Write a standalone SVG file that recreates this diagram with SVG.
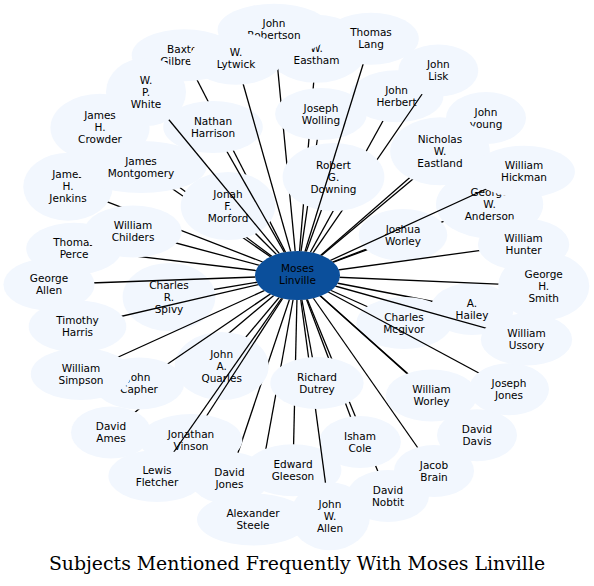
<svg xmlns="http://www.w3.org/2000/svg" width="594" height="586" viewBox="0 0 594 586">
<style>
.node{fill:#f2f7fe}
.center{fill:#0b4f9b}
.lbl{font-family:"DejaVu Sans","Liberation Sans",sans-serif;font-size:10.5px;fill:#000;text-anchor:middle}
.edges line{stroke:#000;stroke-width:1.3}
.title{font-family:"DejaVu Serif","Liberation Serif",serif;font-size:18.85px;fill:#000;text-anchor:middle}
</style>
<rect width="594" height="586" fill="#fff"/>
<g id="node-moses-linville" class="center"><ellipse id="e0" cx="297.5" cy="275.5" rx="42.5" ry="24.5"/><text class="lbl" x="297.5" y="272">Moses<tspan x="297.5" dy="12">Linville</tspan></text></g>
<g id="node-a-hailey" class="node"><ellipse id="e1" cx="472" cy="309" rx="41.6" ry="26"/><text class="lbl" x="472" y="306.5">A.<tspan x="472" dy="12">Hailey</tspan></text></g>
<g id="node-alexander-steele" class="node"><ellipse id="e2" cx="253" cy="519.5" rx="56" ry="26"/><text class="lbl" x="253" y="517">Alexander<tspan x="253" dy="12">Steele</tspan></text></g>
<g id="node-baxter-gilbreath" class="node"><ellipse id="e3" cx="184.4" cy="55.2" rx="52.7" ry="26"/><text class="lbl" x="184.4" y="52.7">Baxter<tspan x="184.4" dy="12">Gilbreath</tspan></text></g>
<g id="node-charles-mcgivor" class="node"><ellipse id="e4" cx="404" cy="323" rx="47.6" ry="26"/><text class="lbl" x="404" y="320.5">Charles<tspan x="404" dy="12">Mcgivor</tspan></text></g>
<g id="node-charles-r-spivy" class="node"><ellipse id="e5" cx="169" cy="297" rx="46.4" ry="34"/><text class="lbl" x="169" y="288.5">Charles<tspan x="169" dy="12">R.</tspan><tspan x="169" dy="12">Spivy</tspan></text></g>
<g id="node-david-ames" class="node"><ellipse id="e6" cx="111" cy="432.5" rx="40" ry="26"/><text class="lbl" x="111" y="430">David<tspan x="111" dy="12">Ames</tspan></text></g>
<g id="node-david-davis" class="node"><ellipse id="e7" cx="477" cy="435.3" rx="40" ry="26"/><text class="lbl" x="477" y="432.8">David<tspan x="477" dy="12">Davis</tspan></text></g>
<g id="node-david-jones" class="node"><ellipse id="e8" cx="229.5" cy="478" rx="40" ry="26"/><text class="lbl" x="229.5" y="475.5">David<tspan x="229.5" dy="12">Jones</tspan></text></g>
<g id="node-david-nobtit" class="node"><ellipse id="e9" cx="388" cy="496" rx="41" ry="26"/><text class="lbl" x="388" y="493.5">David<tspan x="388" dy="12">Nobtit</tspan></text></g>
<g id="node-edward-gleeson" class="node"><ellipse id="e10" cx="293" cy="470.3" rx="48.4" ry="26"/><text class="lbl" x="293" y="467.8">Edward<tspan x="293" dy="12">Gleeson</tspan></text></g>
<g id="node-george-allen" class="node"><ellipse id="e11" cx="49" cy="284.5" rx="45.6" ry="26"/><text class="lbl" x="49" y="282">George<tspan x="49" dy="12">Allen</tspan></text></g>
<g id="node-george-h-smith" class="node"><ellipse id="e12" cx="543.7" cy="286" rx="45.6" ry="34"/><text class="lbl" x="543.7" y="277.5">George<tspan x="543.7" dy="12">H.</tspan><tspan x="543.7" dy="12">Smith</tspan></text></g>
<g id="node-george-w-anderson" class="node"><ellipse id="e13" cx="489.6" cy="204.3" rx="53.6" ry="34"/><text class="lbl" x="489.6" y="195.8">George<tspan x="489.6" dy="12">W.</tspan><tspan x="489.6" dy="12">Anderson</tspan></text></g>
<g id="node-isham-cole" class="node"><ellipse id="e14" cx="360" cy="442" rx="40.9" ry="26"/><text class="lbl" x="360" y="439.5">Isham<tspan x="360" dy="12">Cole</tspan></text></g>
<g id="node-w-eastham" class="node"><ellipse id="e15" cx="316.5" cy="48.8" rx="50.9" ry="34"/><text class="lbl" x="316.5" y="52.3">W.<tspan x="316.5" dy="12">Eastham</tspan></text></g>
<g id="node-jacob-brain" class="node"><ellipse id="e16" cx="434" cy="471" rx="40" ry="26"/><text class="lbl" x="434" y="468.5">Jacob<tspan x="434" dy="12">Brain</tspan></text></g>
<g id="node-james-h-crowder" class="node"><ellipse id="e17" cx="100" cy="127.7" rx="49.6" ry="34"/><text class="lbl" x="100" y="119.2">James<tspan x="100" dy="12">H.</tspan><tspan x="100" dy="12">Crowder</tspan></text></g>
<g id="node-james-h-jenkins" class="node"><ellipse id="e18" cx="68" cy="186.7" rx="44.8" ry="34"/><text class="lbl" x="68" y="178.2">James<tspan x="68" dy="12">H.</tspan><tspan x="68" dy="12">Jenkins</tspan></text></g>
<g id="node-james-montgomery" class="node"><ellipse id="e19" cx="141" cy="167" rx="65.5" ry="26"/><text class="lbl" x="141" y="164.5">James<tspan x="141" dy="12">Montgomery</tspan></text></g>
<g id="node-john-a-quarles" class="node"><ellipse id="e20" cx="221.7" cy="366" rx="47" ry="34"/><text class="lbl" x="221.7" y="357.5">John<tspan x="221.7" dy="12">A.</tspan><tspan x="221.7" dy="12">Quarles</tspan></text></g>
<g id="node-john-capher" class="node"><ellipse id="e21" cx="139" cy="383.5" rx="45.2" ry="26"/><text class="lbl" x="139" y="381">John<tspan x="139" dy="12">Capher</tspan></text></g>
<g id="node-john-herbert" class="node"><ellipse id="e22" cx="396.6" cy="96.3" rx="46.8" ry="26"/><text class="lbl" x="396.6" y="93.8">John<tspan x="396.6" dy="12">Herbert</tspan></text></g>
<g id="node-john-lisk" class="node"><ellipse id="e23" cx="438.3" cy="70.5" rx="40" ry="26"/><text class="lbl" x="438.3" y="68">John<tspan x="438.3" dy="12">Lisk</tspan></text></g>
<g id="node-john-robertson" class="node"><ellipse id="e24" cx="274" cy="29.7" rx="56.4" ry="26"/><text class="lbl" x="274" y="27.2">John<tspan x="274" dy="12">Robertson</tspan></text></g>
<g id="node-john-w-allen" class="node"><ellipse id="e25" cx="330" cy="516.3" rx="40" ry="34"/><text class="lbl" x="330" y="507.8">John<tspan x="330" dy="12">W.</tspan><tspan x="330" dy="12">Allen</tspan></text></g>
<g id="node-john-young" class="node"><ellipse id="e26" cx="486" cy="118" rx="40" ry="26"/><text class="lbl" x="486" y="115.5">John<tspan x="486" dy="12">young</tspan></text></g>
<g id="node-jonah-f-morford" class="node"><ellipse id="e27" cx="228" cy="206" rx="47.3" ry="34"/><text class="lbl" x="228" y="197.5">Jonah<tspan x="228" dy="12">F.</tspan><tspan x="228" dy="12">Morford</tspan></text></g>
<g id="node-jonathan-vinson" class="node"><ellipse id="e28" cx="191" cy="440" rx="51.3" ry="26"/><text class="lbl" x="191" y="437.5">Jonathan<tspan x="191" dy="12">Vinson</tspan></text></g>
<g id="node-joseph-jones" class="node"><ellipse id="e29" cx="509" cy="389.3" rx="40" ry="26"/><text class="lbl" x="509" y="386.8">Joseph<tspan x="509" dy="12">Jones</tspan></text></g>
<g id="node-joseph-wolling" class="node"><ellipse id="e30" cx="321" cy="114" rx="45.9" ry="26"/><text class="lbl" x="321" y="111.5">Joseph<tspan x="321" dy="12">Wolling</tspan></text></g>
<g id="node-joshua-worley" class="node"><ellipse id="e31" cx="403" cy="235" rx="44.3" ry="26"/><text class="lbl" x="403" y="232.5">Joshua<tspan x="403" dy="12">Worley</tspan></text></g>
<g id="node-lewis-fletcher" class="node"><ellipse id="e32" cx="157" cy="476" rx="48.6" ry="26"/><text class="lbl" x="157" y="473.5">Lewis<tspan x="157" dy="12">Fletcher</tspan></text></g>
<g id="node-nathan-harrison" class="node"><ellipse id="e33" cx="213" cy="127" rx="49.8" ry="26"/><text class="lbl" x="213" y="124.5">Nathan<tspan x="213" dy="12">Harrison</tspan></text></g>
<g id="node-nicholas-w-eastland" class="node"><ellipse id="e34" cx="440" cy="151.3" rx="49.8" ry="34"/><text class="lbl" x="440" y="142.8">Nicholas<tspan x="440" dy="12">W.</tspan><tspan x="440" dy="12">Eastland</tspan></text></g>
<g id="node-richard-dutrey" class="node"><ellipse id="e35" cx="317" cy="383" rx="46.7" ry="26"/><text class="lbl" x="317" y="380.5">Richard<tspan x="317" dy="12">Dutrey</tspan></text></g>
<g id="node-robert-g-downing" class="node"><ellipse id="e36" cx="333.5" cy="177" rx="50.9" ry="34"/><text class="lbl" x="333.5" y="168.5">Robert<tspan x="333.5" dy="12">G.</tspan><tspan x="333.5" dy="12">Downing</tspan></text></g>
<g id="node-thomas-lang" class="node"><ellipse id="e37" cx="371" cy="38.7" rx="47.8" ry="26"/><text class="lbl" x="371" y="36.2">Thomas<tspan x="371" dy="12">Lang</tspan></text></g>
<g id="node-thomas-perce" class="node"><ellipse id="e38" cx="74" cy="248.7" rx="47.8" ry="26"/><text class="lbl" x="74" y="246.2">Thomas<tspan x="74" dy="12">Perce</tspan></text></g>
<g id="node-timothy-harris" class="node"><ellipse id="e39" cx="77.5" cy="326.5" rx="48.8" ry="26"/><text class="lbl" x="77.5" y="324">Timothy<tspan x="77.5" dy="12">Harris</tspan></text></g>
<g id="node-w-lytwick" class="node"><ellipse id="e40" cx="236" cy="58.7" rx="46.3" ry="26"/><text class="lbl" x="236" y="56.2">W.<tspan x="236" dy="12">Lytwick</tspan></text></g>
<g id="node-w-p-white" class="node"><ellipse id="e41" cx="146" cy="92" rx="40" ry="34"/><text class="lbl" x="146" y="83.5">W.<tspan x="146" dy="12">P.</tspan><tspan x="146" dy="12">White</tspan></text></g>
<g id="node-william-childers" class="node"><ellipse id="e42" cx="133" cy="231.5" rx="48.6" ry="26"/><text class="lbl" x="133" y="229">William<tspan x="133" dy="12">Childers</tspan></text></g>
<g id="node-william-hickman" class="node"><ellipse id="e43" cx="524" cy="171.7" rx="50.9" ry="26"/><text class="lbl" x="524" y="169.2">William<tspan x="524" dy="12">Hickman</tspan></text></g>
<g id="node-william-hunter" class="node"><ellipse id="e44" cx="523.6" cy="244.5" rx="45.7" ry="26"/><text class="lbl" x="523.6" y="242">William<tspan x="523.6" dy="12">Hunter</tspan></text></g>
<g id="node-william-simpson" class="node"><ellipse id="e45" cx="81" cy="374" rx="50.2" ry="26"/><text class="lbl" x="81" y="371.5">William<tspan x="81" dy="12">Simpson</tspan></text></g>
<g id="node-william-ussory" class="node"><ellipse id="e46" cx="526.5" cy="339.5" rx="45.7" ry="26"/><text class="lbl" x="526.5" y="337">William<tspan x="526.5" dy="12">Ussory</tspan></text></g>
<g id="node-william-worley" class="node"><ellipse id="e47" cx="431.5" cy="395.5" rx="45.7" ry="26"/><text class="lbl" x="431.5" y="393">William<tspan x="431.5" dy="12">Worley</tspan></text></g>
<defs>
<g id="c48"><use href="#e0"/></g>
<g id="c47"><use href="#e47"/><use href="#c48"/></g>
<g id="c46"><use href="#e46"/><use href="#c47"/></g>
<g id="c45"><use href="#e45"/><use href="#c46"/></g>
<g id="c44"><use href="#e44"/><use href="#c45"/></g>
<g id="c43"><use href="#e43"/><use href="#c44"/></g>
<g id="c42"><use href="#e42"/><use href="#c43"/></g>
<g id="c41"><use href="#e41"/><use href="#c42"/></g>
<g id="c40"><use href="#e40"/><use href="#c41"/></g>
<g id="c39"><use href="#e39"/><use href="#c40"/></g>
<g id="c38"><use href="#e38"/><use href="#c39"/></g>
<g id="c37"><use href="#e37"/><use href="#c38"/></g>
<g id="c36"><use href="#e36"/><use href="#c37"/></g>
<g id="c35"><use href="#e35"/><use href="#c36"/></g>
<g id="c34"><use href="#e34"/><use href="#c35"/></g>
<g id="c33"><use href="#e33"/><use href="#c34"/></g>
<g id="c32"><use href="#e32"/><use href="#c33"/></g>
<g id="c31"><use href="#e31"/><use href="#c32"/></g>
<g id="c30"><use href="#e30"/><use href="#c31"/></g>
<g id="c29"><use href="#e29"/><use href="#c30"/></g>
<g id="c28"><use href="#e28"/><use href="#c29"/></g>
<g id="c27"><use href="#e27"/><use href="#c28"/></g>
<g id="c26"><use href="#e26"/><use href="#c27"/></g>
<g id="c25"><use href="#e25"/><use href="#c26"/></g>
<g id="c24"><use href="#e24"/><use href="#c25"/></g>
<g id="c23"><use href="#e23"/><use href="#c24"/></g>
<g id="c22"><use href="#e22"/><use href="#c23"/></g>
<g id="c21"><use href="#e21"/><use href="#c22"/></g>
<g id="c20"><use href="#e20"/><use href="#c21"/></g>
<g id="c19"><use href="#e19"/><use href="#c20"/></g>
<g id="c18"><use href="#e18"/><use href="#c19"/></g>
<g id="c17"><use href="#e17"/><use href="#c18"/></g>
<g id="c16"><use href="#e16"/><use href="#c17"/></g>
<g id="c15"><use href="#e15"/><use href="#c16"/></g>
<g id="c14"><use href="#e14"/><use href="#c15"/></g>
<g id="c13"><use href="#e13"/><use href="#c14"/></g>
<g id="c12"><use href="#e12"/><use href="#c13"/></g>
<g id="c11"><use href="#e11"/><use href="#c12"/></g>
<g id="c10"><use href="#e10"/><use href="#c11"/></g>
<g id="c9"><use href="#e9"/><use href="#c10"/></g>
<g id="c8"><use href="#e8"/><use href="#c9"/></g>
<g id="c7"><use href="#e7"/><use href="#c8"/></g>
<g id="c6"><use href="#e6"/><use href="#c7"/></g>
<g id="c5"><use href="#e5"/><use href="#c6"/></g>
<g id="c4"><use href="#e4"/><use href="#c5"/></g>
<g id="c3"><use href="#e3"/><use href="#c4"/></g>
<g id="c2"><use href="#e2"/><use href="#c3"/></g>
<g id="c1"><use href="#e1"/><use href="#c2"/></g>
<mask id="m1" maskUnits="userSpaceOnUse" x="0" y="0" width="594" height="586"><rect width="594" height="586" fill="#fff"/><use href="#c1" fill="#000"/></mask>
<mask id="m2" maskUnits="userSpaceOnUse" x="0" y="0" width="594" height="586"><rect width="594" height="586" fill="#fff"/><use href="#c2" fill="#000"/></mask>
<mask id="m3" maskUnits="userSpaceOnUse" x="0" y="0" width="594" height="586"><rect width="594" height="586" fill="#fff"/><use href="#c3" fill="#000"/></mask>
<mask id="m4" maskUnits="userSpaceOnUse" x="0" y="0" width="594" height="586"><rect width="594" height="586" fill="#fff"/><use href="#c4" fill="#000"/></mask>
<mask id="m5" maskUnits="userSpaceOnUse" x="0" y="0" width="594" height="586"><rect width="594" height="586" fill="#fff"/><use href="#c5" fill="#000"/></mask>
<mask id="m6" maskUnits="userSpaceOnUse" x="0" y="0" width="594" height="586"><rect width="594" height="586" fill="#fff"/><use href="#c6" fill="#000"/></mask>
<mask id="m7" maskUnits="userSpaceOnUse" x="0" y="0" width="594" height="586"><rect width="594" height="586" fill="#fff"/><use href="#c7" fill="#000"/></mask>
<mask id="m8" maskUnits="userSpaceOnUse" x="0" y="0" width="594" height="586"><rect width="594" height="586" fill="#fff"/><use href="#c8" fill="#000"/></mask>
<mask id="m9" maskUnits="userSpaceOnUse" x="0" y="0" width="594" height="586"><rect width="594" height="586" fill="#fff"/><use href="#c9" fill="#000"/></mask>
<mask id="m10" maskUnits="userSpaceOnUse" x="0" y="0" width="594" height="586"><rect width="594" height="586" fill="#fff"/><use href="#c10" fill="#000"/></mask>
<mask id="m11" maskUnits="userSpaceOnUse" x="0" y="0" width="594" height="586"><rect width="594" height="586" fill="#fff"/><use href="#c11" fill="#000"/></mask>
<mask id="m12" maskUnits="userSpaceOnUse" x="0" y="0" width="594" height="586"><rect width="594" height="586" fill="#fff"/><use href="#c12" fill="#000"/></mask>
<mask id="m13" maskUnits="userSpaceOnUse" x="0" y="0" width="594" height="586"><rect width="594" height="586" fill="#fff"/><use href="#c13" fill="#000"/></mask>
<mask id="m14" maskUnits="userSpaceOnUse" x="0" y="0" width="594" height="586"><rect width="594" height="586" fill="#fff"/><use href="#c14" fill="#000"/></mask>
<mask id="m15" maskUnits="userSpaceOnUse" x="0" y="0" width="594" height="586"><rect width="594" height="586" fill="#fff"/><use href="#c15" fill="#000"/></mask>
<mask id="m16" maskUnits="userSpaceOnUse" x="0" y="0" width="594" height="586"><rect width="594" height="586" fill="#fff"/><use href="#c16" fill="#000"/></mask>
<mask id="m17" maskUnits="userSpaceOnUse" x="0" y="0" width="594" height="586"><rect width="594" height="586" fill="#fff"/><use href="#c17" fill="#000"/></mask>
<mask id="m18" maskUnits="userSpaceOnUse" x="0" y="0" width="594" height="586"><rect width="594" height="586" fill="#fff"/><use href="#c18" fill="#000"/></mask>
<mask id="m19" maskUnits="userSpaceOnUse" x="0" y="0" width="594" height="586"><rect width="594" height="586" fill="#fff"/><use href="#c19" fill="#000"/></mask>
<mask id="m20" maskUnits="userSpaceOnUse" x="0" y="0" width="594" height="586"><rect width="594" height="586" fill="#fff"/><use href="#c20" fill="#000"/></mask>
<mask id="m21" maskUnits="userSpaceOnUse" x="0" y="0" width="594" height="586"><rect width="594" height="586" fill="#fff"/><use href="#c21" fill="#000"/></mask>
<mask id="m22" maskUnits="userSpaceOnUse" x="0" y="0" width="594" height="586"><rect width="594" height="586" fill="#fff"/><use href="#c22" fill="#000"/></mask>
<mask id="m23" maskUnits="userSpaceOnUse" x="0" y="0" width="594" height="586"><rect width="594" height="586" fill="#fff"/><use href="#c23" fill="#000"/></mask>
<mask id="m24" maskUnits="userSpaceOnUse" x="0" y="0" width="594" height="586"><rect width="594" height="586" fill="#fff"/><use href="#c24" fill="#000"/></mask>
<mask id="m25" maskUnits="userSpaceOnUse" x="0" y="0" width="594" height="586"><rect width="594" height="586" fill="#fff"/><use href="#c25" fill="#000"/></mask>
<mask id="m26" maskUnits="userSpaceOnUse" x="0" y="0" width="594" height="586"><rect width="594" height="586" fill="#fff"/><use href="#c26" fill="#000"/></mask>
<mask id="m27" maskUnits="userSpaceOnUse" x="0" y="0" width="594" height="586"><rect width="594" height="586" fill="#fff"/><use href="#c27" fill="#000"/></mask>
<mask id="m28" maskUnits="userSpaceOnUse" x="0" y="0" width="594" height="586"><rect width="594" height="586" fill="#fff"/><use href="#c28" fill="#000"/></mask>
<mask id="m29" maskUnits="userSpaceOnUse" x="0" y="0" width="594" height="586"><rect width="594" height="586" fill="#fff"/><use href="#c29" fill="#000"/></mask>
<mask id="m30" maskUnits="userSpaceOnUse" x="0" y="0" width="594" height="586"><rect width="594" height="586" fill="#fff"/><use href="#c30" fill="#000"/></mask>
<mask id="m31" maskUnits="userSpaceOnUse" x="0" y="0" width="594" height="586"><rect width="594" height="586" fill="#fff"/><use href="#c31" fill="#000"/></mask>
<mask id="m32" maskUnits="userSpaceOnUse" x="0" y="0" width="594" height="586"><rect width="594" height="586" fill="#fff"/><use href="#c32" fill="#000"/></mask>
<mask id="m33" maskUnits="userSpaceOnUse" x="0" y="0" width="594" height="586"><rect width="594" height="586" fill="#fff"/><use href="#c33" fill="#000"/></mask>
<mask id="m34" maskUnits="userSpaceOnUse" x="0" y="0" width="594" height="586"><rect width="594" height="586" fill="#fff"/><use href="#c34" fill="#000"/></mask>
<mask id="m35" maskUnits="userSpaceOnUse" x="0" y="0" width="594" height="586"><rect width="594" height="586" fill="#fff"/><use href="#c35" fill="#000"/></mask>
<mask id="m36" maskUnits="userSpaceOnUse" x="0" y="0" width="594" height="586"><rect width="594" height="586" fill="#fff"/><use href="#c36" fill="#000"/></mask>
<mask id="m37" maskUnits="userSpaceOnUse" x="0" y="0" width="594" height="586"><rect width="594" height="586" fill="#fff"/><use href="#c37" fill="#000"/></mask>
<mask id="m38" maskUnits="userSpaceOnUse" x="0" y="0" width="594" height="586"><rect width="594" height="586" fill="#fff"/><use href="#c38" fill="#000"/></mask>
<mask id="m39" maskUnits="userSpaceOnUse" x="0" y="0" width="594" height="586"><rect width="594" height="586" fill="#fff"/><use href="#c39" fill="#000"/></mask>
<mask id="m40" maskUnits="userSpaceOnUse" x="0" y="0" width="594" height="586"><rect width="594" height="586" fill="#fff"/><use href="#c40" fill="#000"/></mask>
<mask id="m41" maskUnits="userSpaceOnUse" x="0" y="0" width="594" height="586"><rect width="594" height="586" fill="#fff"/><use href="#c41" fill="#000"/></mask>
<mask id="m42" maskUnits="userSpaceOnUse" x="0" y="0" width="594" height="586"><rect width="594" height="586" fill="#fff"/><use href="#c42" fill="#000"/></mask>
<mask id="m43" maskUnits="userSpaceOnUse" x="0" y="0" width="594" height="586"><rect width="594" height="586" fill="#fff"/><use href="#c43" fill="#000"/></mask>
<mask id="m44" maskUnits="userSpaceOnUse" x="0" y="0" width="594" height="586"><rect width="594" height="586" fill="#fff"/><use href="#c44" fill="#000"/></mask>
<mask id="m45" maskUnits="userSpaceOnUse" x="0" y="0" width="594" height="586"><rect width="594" height="586" fill="#fff"/><use href="#c45" fill="#000"/></mask>
<mask id="m46" maskUnits="userSpaceOnUse" x="0" y="0" width="594" height="586"><rect width="594" height="586" fill="#fff"/><use href="#c46" fill="#000"/></mask>
<mask id="m47" maskUnits="userSpaceOnUse" x="0" y="0" width="594" height="586"><rect width="594" height="586" fill="#fff"/><use href="#c47" fill="#000"/></mask>
</defs>
<g id="edges" class="edges">
<line x1="297.5" y1="275.5" x2="472" y2="309" mask="url(#m1)"/>
<line x1="297.5" y1="275.5" x2="253" y2="519.5" mask="url(#m2)"/>
<line x1="297.5" y1="275.5" x2="184.4" y2="55.2" mask="url(#m3)"/>
<line x1="297.5" y1="275.5" x2="404" y2="323" mask="url(#m4)"/>
<line x1="297.5" y1="275.5" x2="169" y2="297" mask="url(#m5)"/>
<line x1="297.5" y1="275.5" x2="111" y2="432.5" mask="url(#m6)"/>
<line x1="297.5" y1="275.5" x2="477" y2="435.3" mask="url(#m7)"/>
<line x1="297.5" y1="275.5" x2="229.5" y2="478" mask="url(#m8)"/>
<line x1="297.5" y1="275.5" x2="388" y2="496" mask="url(#m9)"/>
<line x1="297.5" y1="275.5" x2="293" y2="470.3" mask="url(#m10)"/>
<line x1="297.5" y1="275.5" x2="49" y2="284.5" mask="url(#m11)"/>
<line x1="297.5" y1="275.5" x2="543.7" y2="286" mask="url(#m12)"/>
<line x1="297.5" y1="275.5" x2="489.6" y2="204.3" mask="url(#m13)"/>
<line x1="297.5" y1="275.5" x2="360" y2="442" mask="url(#m14)"/>
<line x1="297.5" y1="275.5" x2="316.5" y2="48.8" mask="url(#m15)"/>
<line x1="297.5" y1="275.5" x2="434" y2="471" mask="url(#m16)"/>
<line x1="297.5" y1="275.5" x2="100" y2="127.7" mask="url(#m17)"/>
<line x1="297.5" y1="275.5" x2="68" y2="186.7" mask="url(#m18)"/>
<line x1="297.5" y1="275.5" x2="141" y2="167" mask="url(#m19)"/>
<line x1="297.5" y1="275.5" x2="221.7" y2="366" mask="url(#m20)"/>
<line x1="297.5" y1="275.5" x2="139" y2="383.5" mask="url(#m21)"/>
<line x1="297.5" y1="275.5" x2="396.6" y2="96.3" mask="url(#m22)"/>
<line x1="297.5" y1="275.5" x2="438.3" y2="70.5" mask="url(#m23)"/>
<line x1="297.5" y1="275.5" x2="274" y2="29.7" mask="url(#m24)"/>
<line x1="297.5" y1="275.5" x2="330" y2="516.3" mask="url(#m25)"/>
<line x1="297.5" y1="275.5" x2="486" y2="118" mask="url(#m26)"/>
<line x1="297.5" y1="275.5" x2="228" y2="206" mask="url(#m27)"/>
<line x1="297.5" y1="275.5" x2="191" y2="440" mask="url(#m28)"/>
<line x1="297.5" y1="275.5" x2="509" y2="389.3" mask="url(#m29)"/>
<line x1="297.5" y1="275.5" x2="321" y2="114" mask="url(#m30)"/>
<line x1="297.5" y1="275.5" x2="403" y2="235" mask="url(#m31)"/>
<line x1="297.5" y1="275.5" x2="157" y2="476" mask="url(#m32)"/>
<line x1="297.5" y1="275.5" x2="213" y2="127" mask="url(#m33)"/>
<line x1="297.5" y1="275.5" x2="440" y2="151.3" mask="url(#m34)"/>
<line x1="297.5" y1="275.5" x2="317" y2="383" mask="url(#m35)"/>
<line x1="297.5" y1="275.5" x2="333.5" y2="177" mask="url(#m36)"/>
<line x1="297.5" y1="275.5" x2="371" y2="38.7" mask="url(#m37)"/>
<line x1="297.5" y1="275.5" x2="74" y2="248.7" mask="url(#m38)"/>
<line x1="297.5" y1="275.5" x2="77.5" y2="326.5" mask="url(#m39)"/>
<line x1="297.5" y1="275.5" x2="236" y2="58.7" mask="url(#m40)"/>
<line x1="297.5" y1="275.5" x2="146" y2="92" mask="url(#m41)"/>
<line x1="297.5" y1="275.5" x2="133" y2="231.5" mask="url(#m42)"/>
<line x1="297.5" y1="275.5" x2="524" y2="171.7" mask="url(#m43)"/>
<line x1="297.5" y1="275.5" x2="523.6" y2="244.5" mask="url(#m44)"/>
<line x1="297.5" y1="275.5" x2="81" y2="374" mask="url(#m45)"/>
<line x1="297.5" y1="275.5" x2="526.5" y2="339.5" mask="url(#m46)"/>
<line x1="297.5" y1="275.5" x2="431.5" y2="395.5" mask="url(#m47)"/>
</g>
<text class="title" x="297" y="570">Subjects Mentioned Frequently With Moses Linville</text>
</svg>
